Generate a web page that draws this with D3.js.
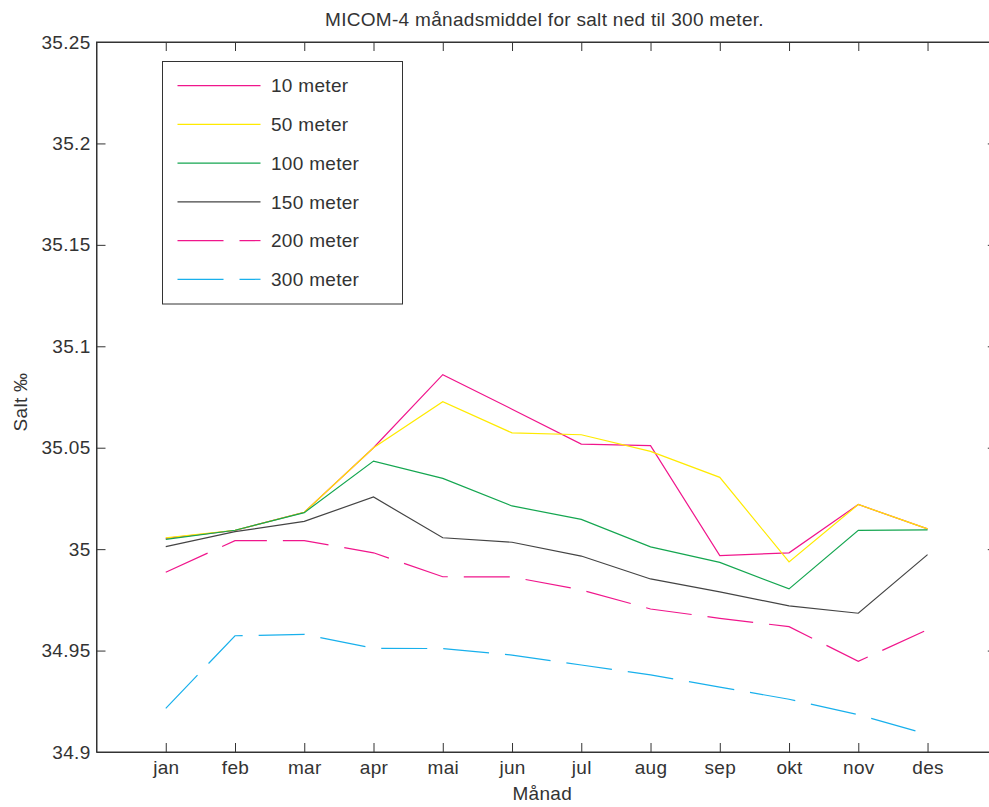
<!DOCTYPE html>
<html>
<head>
<meta charset="utf-8">
<script src="https://cdn.jsdelivr.net/npm/d3@7"></script>
<style>
  html, body { margin: 0; padding: 0; background: #fff; }
  svg { display: block; }
  text { font-family: "Liberation Sans", Arial, Helvetica, sans-serif; fill: #333; letter-spacing: 0.3px; }
</style>
</head>
<body>
<svg id="chart" width="989" height="807"></svg>
<script>
// Monthly mean salinity (MICOM-4) at six depths
const months = ["jan", "feb", "mar", "apr", "mai", "jun", "jul", "aug", "sep", "okt", "nov", "des"];
const salt10  = [35.0053, 35.0092, 35.0182, 35.0500, 35.0860, 35.0690, 35.0518, 35.0510, 34.9968, 34.9982, 35.0220, 35.0100];
const salt50  = [35.0056, 35.0093, 35.0182, 35.0500, 35.0727, 35.0573, 35.0564, 35.0482, 35.0354, 34.9937, 35.0220, 35.0100];
const salt100 = [35.0048, 35.0093, 35.0180, 35.0434, 35.0349, 35.0213, 35.0147, 35.0011, 34.9935, 34.9804, 35.0093, 35.0095];
const salt150 = [35.0012, 35.0086, 35.0137, 35.0257, 35.0056, 35.0034, 34.9966, 34.9853, 34.9789, 34.9720, 34.9684, 34.9973];
const salt200 = [34.9886, 35.0042, 35.0042, 34.9982, 34.9864, 34.9863, 34.9799, 34.9705, 34.9659, 34.9618, 34.9447, 34.9603];
const salt300 = [34.9215, 34.9573, 34.9580, 34.9511, 34.9510, 34.9478, 34.9429, 34.9380, 34.9320, 34.9260, 34.9184, 34.9087];
const seriesNames = ["10 meter", "50 meter", "100 meter", "150 meter", "200 meter", "300 meter"];
const yTicks = [34.9, 34.95, 35, 35.05, 35.1, 35.15, 35.2, 35.25];

const series = [
  { name: seriesNames[0], values: salt10,  color: "#f0168c", dash: null },
  { name: seriesNames[1], values: salt50,  color: "#ffea00", dash: null },
  { name: seriesNames[2], values: salt100, color: "#14a650", dash: null },
  { name: seriesNames[3], values: salt150, color: "#444444", dash: null },
  { name: seriesNames[4], values: salt200, color: "#f0168c", dash: "46,16" },
  { name: seriesNames[5], values: salt300, color: "#18b0ec", dash: "46,16" }
];

const svg = d3.select("#chart");
const plotLeft = 96.5, plotRight = 996.8, plotTop = 42, plotBottom = 752;

const x = d3.scaleLinear().domain([0, 13]).range([plotLeft, plotRight]);
const y = d3.scaleLinear().domain([34.9, 35.25]).range([plotBottom, plotTop]);

const axisColor = "#333";
const tickLen = 9;
const fontSize = 19;

// plot frame
svg.append("rect")
  .attr("x", plotLeft).attr("y", plotTop)
  .attr("width", plotRight - plotLeft).attr("height", plotBottom - plotTop)
  .attr("fill", "none").attr("stroke", axisColor).attr("stroke-width", 1);

// axes with inward ticks on all four sides
const xAxisBottom = d3.axisBottom(x).tickValues(d3.range(1, 13))
  .tickFormat(d => months[d - 1]).tickSizeInner(-tickLen).tickSizeOuter(0).tickPadding(9);
const gxb = svg.append("g").attr("transform", `translate(0,${plotBottom})`).call(xAxisBottom);
const xAxisTop = d3.axisTop(x).tickValues(d3.range(1, 13))
  .tickFormat("").tickSizeInner(-tickLen).tickSizeOuter(0);
const gxt = svg.append("g").attr("transform", `translate(0,${plotTop})`).call(xAxisTop);
const yAxisLeft = d3.axisLeft(y).tickValues(yTicks)
  .tickFormat(d => d3.format("")(+d.toFixed(2))).tickSizeInner(-tickLen).tickSizeOuter(0).tickPadding(6);
const gyl = svg.append("g").attr("transform", `translate(${plotLeft},0)`).call(yAxisLeft);
const yAxisRight = d3.axisRight(y).tickValues(yTicks)
  .tickFormat("").tickSizeInner(-tickLen).tickSizeOuter(0);
const gyr = svg.append("g").attr("transform", `translate(${plotRight},0)`).call(yAxisRight);

[gxb, gxt, gyl, gyr].forEach(g => {
  g.select(".domain").attr("stroke", axisColor);
  g.selectAll(".tick line").attr("stroke", axisColor);
  g.selectAll(".tick text")
    .style("font-family", '"Liberation Sans", Arial, sans-serif')
    .attr("font-size", fontSize).attr("fill", "#333");
});
gxb.selectAll(".tick text").attr("y", 9).attr("dy", "0.71em");
gyl.selectAll(".tick text").attr("x", -6);

// series lines
const line = d3.line().x((d, i) => x(i + 1)).y(d => y(d));
series.forEach(s => {
  svg.append("path")
    .datum(s.values)
    .attr("d", line)
    .attr("fill", "none")
    .attr("stroke", s.color)
    .attr("stroke-width", 1.2)
    .attr("stroke-dasharray", s.dash);
});

// title and axis labels
svg.append("text")
  .attr("x", 544.5).attr("y", 26)
  .attr("text-anchor", "middle").attr("font-size", fontSize)
  .text("MICOM-4 månadsmiddel for salt ned til 300 meter.");
svg.append("text")
  .attr("x", (plotLeft + 988) / 2).attr("y", 800)
  .attr("text-anchor", "middle").attr("font-size", fontSize)
  .text("Månad");
svg.append("text")
  .attr("transform", "translate(27,402) rotate(-90)")
  .attr("text-anchor", "middle").attr("font-size", fontSize)
  .text("Salt ‰");

// legend
const legend = svg.append("g");
legend.append("rect")
  .attr("x", 162.5).attr("y", 61.5).attr("width", 240).attr("height", 242.5)
  .attr("fill", "#fff").attr("stroke", axisColor).attr("stroke-width", 1);
const rowY = d3.scaleLinear().domain([0, 5]).range([85.7, 279.3]);
series.forEach((s, i) => {
  const yy = rowY(i);
  legend.append("line")
    .attr("x1", 177.5).attr("x2", 260.5).attr("y1", yy).attr("y2", yy)
    .attr("stroke", s.color).attr("stroke-width", 1.2)
    .attr("stroke-dasharray", s.dash);
  legend.append("text")
    .attr("x", 271).attr("y", yy).attr("dy", "0.35em")
    .attr("font-size", fontSize)
    .text(s.name);
});
</script>
</body>
</html>
